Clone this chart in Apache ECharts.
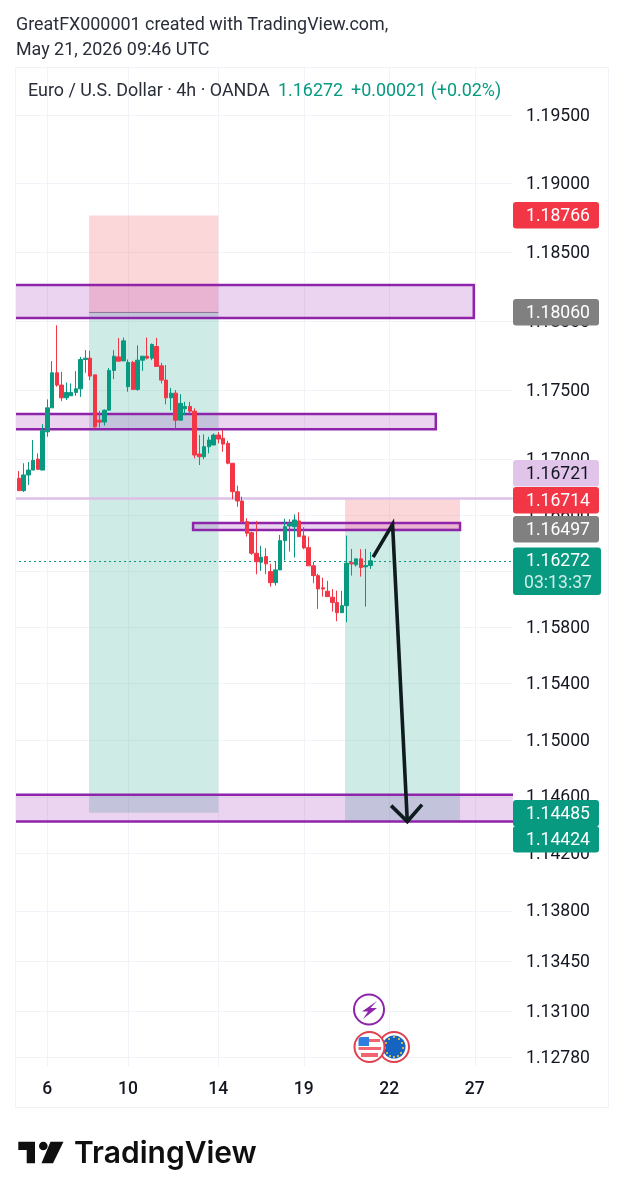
<!DOCTYPE html>
<html><head><meta charset="utf-8">
<style>html,body{margin:0;padding:0;background:#fff}#c{width:624px;height:1199px}</style>
<script src="https://cdn.jsdelivr.net/npm/echarts@6/dist/echarts.min.js"></script>
</head><body><div id="c"></div>
<script>
// ---- data ----
const dayLabels = {7:'6',24:'10',43:'14',61:'19',79:'22',97:'27'};
const barCount = 106;
const categories = Array.from({length:barCount},(_,i)=>dayLabels[i]||'');
const priceTicks = [1.195,1.19,1.185,1.18,1.175,1.17,1.166,1.162,1.158,1.154,1.15,1.146,1.142,1.138,1.1345,1.131,1.1278];
const firstBar = 1;
const opens = [1.16863,1.16774,1.16887,1.16922,1.17001,1.16922,1.17197,1.1737,1.17623,1.17534,1.17442,1.17457,1.17481,1.17507,1.17719,1.17729,1.17608,1.17281,1.17267,1.17353,1.1764,1.17738,1.17709,1.17522,1.17698,1.17503,1.17714,1.17743,1.17729,1.17813,1.17673,1.1757,1.17442,1.17476,1.17281,1.17363,1.1738,1.17346,1.17037,1.17018,1.1709,1.17102,1.17174,1.1715,1.17114,1.16971,1.16767,1.167,1.16552,1.16473,1.16326,1.16262,1.16302,1.16195,1.16116,1.16207,1.16416,1.16521,1.16516,1.16557,1.1645,1.16366,1.16236,1.16166,1.16079,1.16055,1.16012,1.15974,1.15902,1.15952,1.16259,1.16243,1.16286,1.16229,1.16238];
const closes = [1.16774,1.16887,1.16922,1.16992,1.16927,1.17205,1.1737,1.17623,1.17534,1.17442,1.17481,1.17481,1.17507,1.17719,1.17729,1.17599,1.17233,1.17267,1.17353,1.1764,1.17743,1.17707,1.17854,1.17698,1.17503,1.17714,1.17743,1.17729,1.17828,1.17669,1.1757,1.17442,1.17476,1.17281,1.17402,1.1738,1.17346,1.1703,1.17018,1.1709,1.17138,1.17174,1.17145,1.17109,1.16971,1.16767,1.167,1.16552,1.16469,1.16326,1.16266,1.16298,1.1625,1.16116,1.16207,1.16416,1.16516,1.16541,1.16564,1.16445,1.16364,1.16236,1.16166,1.16071,1.16071,1.16016,1.15974,1.15902,1.15952,1.16255,1.1625,1.16286,1.16224,1.16238,1.16272];
const lows = [1.16772,1.16764,1.16815,1.16922,1.16922,1.16922,1.17162,1.1737,1.17522,1.17418,1.17426,1.17457,1.17457,1.17449,1.17623,1.1757,1.17221,1.17228,1.17242,1.17353,1.17577,1.17707,1.17709,1.17486,1.17503,1.17493,1.17637,1.17719,1.17714,1.17666,1.17546,1.17395,1.17353,1.17221,1.17281,1.17317,1.17329,1.17006,1.16958,1.17,1.17042,1.17102,1.17114,1.17054,1.16963,1.16712,1.16659,1.16541,1.16445,1.16314,1.16176,1.162,1.16176,1.16088,1.16095,1.16207,1.16274,1.16338,1.16295,1.16445,1.16355,1.16236,1.16112,1.15929,1.16016,1.16016,1.15909,1.15841,1.15902,1.15834,1.16166,1.16231,1.16159,1.15945,1.16214];
const highs = [1.16915,1.16971,1.1698,1.17138,1.17042,1.17252,1.17431,1.17707,1.17967,1.1763,1.17553,1.17546,1.17635,1.17738,1.17787,1.17782,1.17608,1.17348,1.17358,1.17657,1.17787,1.17875,1.17878,1.17719,1.17709,1.17821,1.17743,1.17878,1.17835,1.17875,1.17695,1.17679,1.17514,1.17498,1.17469,1.17413,1.17413,1.17366,1.17174,1.17179,1.17162,1.17186,1.17197,1.1721,1.17133,1.16971,1.1681,1.16731,1.16576,1.1648,1.16557,1.16379,1.16362,1.1625,1.16266,1.16457,1.16573,1.16569,1.16604,1.16619,1.16512,1.16445,1.16266,1.16179,1.16152,1.16129,1.16069,1.16059,1.16057,1.16452,1.16357,1.16286,1.16355,1.16357,1.16334];
// purple zones: [fromBar, toBar, top, bottom]
const zones = [[-3,96.8,1.18259,1.1802],[-3,88.8,1.17325,1.17216],[37.7,93.9,1.16543,1.16493],[-3,110,1.14613,1.14424]];
// positions: [fromBar, toBar, stop, entry, target]
const positions = [[15.8,43,1.18766,1.1806,1.14485],[69.7,93.9,1.16714,1.16497,1.14424]];
const levelLine = 1.16721;
const lastPrice = 1.16272;
const arrowPath = [[75.6,1.16298],[79.7,1.16533],[82.8,1.14424]];
const arrowWings = [[79.4,1.14536],[82.8,1.14424],[85.9,1.14543]];
// price tags: [price, background, text colour, pixel shift away from overlap]
const tagPrices = [1.18766,1.1806,1.16721,1.16714,1.16497,1.14485,1.14424];
const tagFills = ['#f23645','#808080','#e1c4ea','#f23645','#808080','#089981','#089981'];
const tagInks = ['#fff','#fff','#131722','#fff','#fff','#fff','#fff'];
const tagShifts = [0,0,-25,1,0,0,17];
const countdown = '03:13:37';

const FONT = 'Roboto, sans-serif';
const grid = {left:14, top:67, width:498.75, height:999};
const INK = '#131722', GRIDC = '#f0f3f7';
const TDY = 1.5; // text baseline nudge

function xFn(api){
  const a = api.coord([0,1.16])[0], b = api.coord([1,1.16])[0];
  return i => a + (b-a)*i;
}
const common = {type:'custom',silent:true,coordinateSystem:'cartesian2d',encode:{x:0,y:1}};

const series = [
 {...common, name:'priceScale', z:1, clip:false, data:priceTicks.map(p=>[0,p]),
  renderItem(params,api){
   const p=priceTicks[params.dataIndex], y=api.coord([0,p])[1], s=params.coordSys;
   return {type:'group',children:[
     {type:'line',shape:{x1:s.x,y1:Math.round(y)+.5,x2:s.x+s.width,y2:Math.round(y)+.5},style:{stroke:GRIDC,lineWidth:1}},
     {type:'text',style:{text:p.toFixed(5),x:558,y:y+TDY,align:'center',verticalAlign:'middle',fill:INK,font:'17.6px '+FONT}}
   ]};
  }},
 {...common, name:'positions', z:2, clip:true, data:positions.map(r=>[0,r[3]]),
  renderItem(params,api){
   const X=xFn(api), r=positions[params.dataIndex], l=X(r[0]), w=X(r[1])-l;
   const yS=api.coord([0,r[2]])[1], yE=api.coord([0,r[3]])[1], yT=api.coord([0,r[4]])[1];
   return {type:'group',children:[
     {type:'rect',shape:{x:l,y:yS,width:w,height:yE-yS},style:{fill:'rgba(242,54,69,0.2)'}},
     {type:'rect',shape:{x:l,y:yE,width:w,height:yT-yE},style:{fill:'rgba(8,153,129,0.2)'}},
     {type:'line',shape:{x1:l,y1:yE,x2:l+w,y2:yE},style:{stroke:'#888',lineWidth:1}}
   ]};
  }},
 {...common, name:'zones', z:3, clip:true, data:zones.map(r=>[0,r[2]]),
  renderItem(params,api){
   const X=xFn(api), r=zones[params.dataIndex], l=X(r[0]), w=X(r[1])-l;
   const t=api.coord([0,r[2]])[1], b=api.coord([0,r[3]])[1];
   return {type:'rect',shape:{x:l,y:t,width:w,height:b-t},style:{fill:'rgba(156,39,176,0.2)',stroke:'#8e24aa',lineWidth:2.5}};
  }},
 {...common, name:'levels', z:3, clip:true, data:[[0,levelLine],[0,lastPrice]],
  renderItem(params,api){
   const s=params.coordSys, i=params.dataIndex, y=Math.round(api.coord([0,i?lastPrice:levelLine])[1])+.5;
   return {type:'line',shape:{x1:s.x,y1:y,x2:s.x+s.width,y2:y},
     style:i?{stroke:'#089981',lineWidth:1.2,lineDash:[2,3]}:{stroke:'#dcc0e8',lineWidth:2.5}};
  }},
 {type:'candlestick',name:'EURUSD',z:5,silent:true,barWidth:4,
  data:categories.map((_,i)=>{const k=i-firstBar; return k>=0&&k<opens.length?[opens[k],closes[k],lows[k],highs[k]]:'-';}),
  itemStyle:{color:'#089981',color0:'#f23645',borderColor:'#089981',borderColor0:'#f23645',borderWidth:1}},
 {...common, name:'arrow', z:8, clip:true, data:[[0,1.15]],
  renderItem(params,api){
   const X=xFn(api), pts=a=>a.map(q=>[X(q[0]),api.coord([0,q[1]])[1]]);
   const st={stroke:'#0e1c20',lineWidth:3.6,fill:null,lineCap:'butt',lineJoin:'miter'};
   return {type:'group',children:[
     {type:'polyline',shape:{points:pts(arrowPath)},style:st},
     {type:'polyline',shape:{points:pts(arrowWings)},style:st}
   ]};
  }},
 {...common, name:'tags', z:20, clip:false, data:tagPrices.map(p=>[0,p]),
  renderItem(params,api){
   const i=params.dataIndex, y=Math.round(api.coord([0,tagPrices[i]])[1])+tagShifts[i];
   return {type:'group',children:[
     {type:'rect',shape:{x:513,y:y-13,width:86,height:26.5,r:3},style:{fill:tagFills[i]}},
     {type:'text',style:{text:tagPrices[i].toFixed(5),x:558,y:y+TDY,align:'center',verticalAlign:'middle',fill:tagInks[i],font:'17.6px '+FONT}}
   ]};
  }},
 {...common, name:'lastTag', z:21, clip:false, data:[[0,lastPrice]],
  renderItem(params,api){
   const y=Math.round(api.coord([0,lastPrice])[1])+10;
   return {type:'group',children:[
     {type:'rect',shape:{x:513,y:y-23.5,width:88,height:47.5,r:3},style:{fill:'#089981'}},
     {type:'text',style:{text:lastPrice.toFixed(5),x:558,y:y-11+TDY,align:'center',verticalAlign:'middle',fill:'#fff',font:'17.6px '+FONT}},
     {type:'text',style:{text:countdown,x:558,y:y+11+TDY,align:'center',verticalAlign:'middle',fill:'#cfeee7',font:'17.6px '+FONT}}
   ]};
  }}
];

const txt=(text,x,y,fill)=>({type:'text',z:50,style:{text,x,y,fill,font:'17.9px '+FONT,verticalAlign:'middle'}});
const euStars=[[394,1037],[399,1039],[402,1043],[403,1048],[401,1053],[398,1056],[394,1057],[390,1056],[387,1053],[385,1048],[386,1043],[389,1039]];
const graphic=[
 {type:'rect',z:40,shape:{x:0,y:60,width:15,height:1050},style:{fill:'#fff'}},
 {type:'rect',z:41,shape:{x:15.5,y:67.5,width:593,height:1040},style:{fill:null,stroke:'#f0f3f7',lineWidth:1}},
 txt('GreatFX000001 created with TradingView.com,',16,25.5,'#2a2e39'),
 txt('May 21, 2026 09:46 UTC',16,50.5,'#2a2e39'),
 txt('Euro / U.S. Dollar · 4h · OANDA',28,91.5,'#2a2e39'),
 txt('1.16272',278,91.5,'#089981'),
 txt('+0.00021 (+0.02%)',351,91.5,'#089981'),
 // event markers
 {type:'circle',z:45,shape:{cx:369,cy:1009.5,r:15},style:{fill:'#fff',stroke:'#8e24aa',lineWidth:2}},
 {type:'polygon',z:46,shape:{points:[[377,1001],[362,1011.5],[368,1011.5],[363,1019],[377,1008],[370.5,1008]]},style:{fill:'#8e24aa'}},
 {type:'circle',z:45,shape:{cx:394,cy:1047,r:15},style:{fill:'#fff',stroke:'#e0404f',lineWidth:2}},
 {type:'circle',z:45,shape:{cx:394,cy:1047,r:11.5},style:{fill:'#1565c0'}},
 ...euStars.map(s=>({type:'circle',z:46,shape:{cx:s[0],cy:s[1],r:1},style:{fill:'#f5d33c'}})),
 {type:'circle',z:47,shape:{cx:369.5,cy:1047,r:15},style:{fill:'#fff',stroke:'#e0404f',lineWidth:2}},
 {type:'rect',z:48,shape:{x:369,y:1039,width:11,height:3},style:{fill:'#f0656f'}},
 {type:'rect',z:48,shape:{x:358.5,y:1047,width:22.5,height:3},style:{fill:'#f0656f'}},
 {type:'rect',z:48,shape:{x:361,y:1053,width:17,height:4},style:{fill:'#f0656f'}},
 {type:'rect',z:49,shape:{x:358.5,y:1037,width:10.5,height:9,r:[3,0,0,0]},style:{fill:'#2f7fe0'}},
 // brand mark
 {type:'polygon',z:50,shape:{points:[[18.3,1141.7],[35,1141.7],[35,1163.3],[26.7,1163.3],[26.7,1150],[18.3,1150]]},style:{fill:'#0f0f0f'}},
 {type:'circle',z:50,shape:{cx:43.3,cy:1146,r:4.3},style:{fill:'#0f0f0f'}},
 {type:'polygon',z:50,shape:{points:[[50.5,1141.7],[63.5,1141.7],[53,1163.3],[41.5,1163.3]]},style:{fill:'#0f0f0f'}},
 {type:'text',z:50,style:{text:'TradingView',x:74,y:1154,fill:'#0f0f0f',font:'600 30px Inter, sans-serif',verticalAlign:'middle'}}
];

const chart=echarts.init(document.getElementById('c'),null,{renderer:'canvas'});
chart.setOption({
 animation:false,
 backgroundColor:'#fff',
 grid,
 xAxis:{type:'category',data:categories,boundaryGap:false,
  axisLine:{show:false},axisTick:{show:false},
  splitLine:{show:true,interval:(i,v)=>v!=='',lineStyle:{color:GRIDC,width:1}},
  axisLabel:{show:true,interval:(i,v)=>v!=='',hideOverlap:false,margin:15,color:INK,fontFamily:'Roboto, sans-serif',fontSize:17.5,fontWeight:500}},
 yAxis:{type:'log',logBase:10,min:1.12718,max:1.19854,
  axisLine:{show:false},axisTick:{show:false},axisLabel:{show:false},splitLine:{show:false},minorSplitLine:{show:false}},
 series,graphic
});
</script></body></html>
